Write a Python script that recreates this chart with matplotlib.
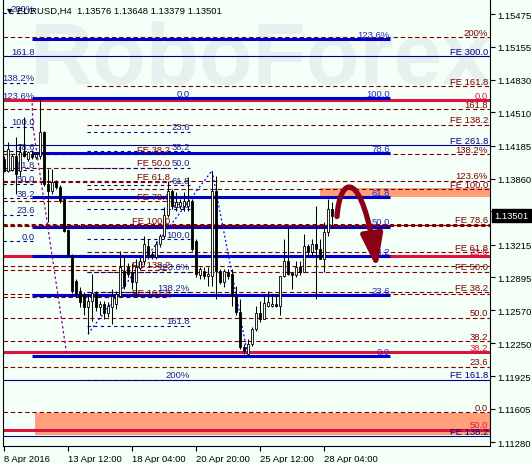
import matplotlib
matplotlib.use("Agg")
import matplotlib.pyplot as plt
import numpy as np
from matplotlib.patches import Rectangle, FancyArrowPatch
from matplotlib.path import Path

BG = "#F4FFF8"
FONT = ["Liberation Sans", "DejaVu Sans"]
FS = 6.8

# H4 candles, 8 Apr 20:00 .. 28 Apr 12:00
opens = [1.1405, 1.1394, 1.1395, 1.1408, 1.1394, 1.1412, 1.1405, 1.1410, 1.1407, 1.1408,
         1.1432, 1.1381, 1.1374, 1.1383, 1.1378, 1.1366, 1.1336, 1.1310, 1.1286, 1.1276,
         1.1273, 1.1260, 1.1266, 1.1274, 1.1260, 1.1263, 1.1254, 1.1260, 1.1263, 1.1271,
         1.1296, 1.1300, 1.1295, 1.1285, 1.1299, 1.1305, 1.1320, 1.1312, 1.1309, 1.1322,
         1.1330, 1.1351, 1.1374, 1.1358, 1.1359, 1.1359, 1.1359, 1.1364, 1.1325, 1.1292,
         1.1296, 1.1291, 1.1291, 1.1374, 1.1296, 1.1285, 1.1295, 1.1293, 1.1271, 1.1255,
         1.1221, 1.1214, 1.1224, 1.1239, 1.1254, 1.1249, 1.1261, 1.1261, 1.1263, 1.1261,
         1.1291, 1.1305, 1.1294, 1.1292, 1.1300, 1.1295, 1.1320, 1.1314, 1.1322, 1.1317,
         1.1307, 1.1334, 1.1356]
highs = [1.1408, 1.1422, 1.1410, 1.1427, 1.1420, 1.1447, 1.1413, 1.1414, 1.1412, 1.1464,
         1.1433, 1.1396, 1.1396, 1.1385, 1.1380, 1.1367, 1.1337, 1.1312, 1.1288, 1.1280,
         1.1275, 1.1273, 1.1293, 1.1276, 1.1266, 1.1266, 1.1265, 1.1278, 1.1276, 1.1315,
         1.1310, 1.1303, 1.1303, 1.1307, 1.1309, 1.1330, 1.1327, 1.1315, 1.1325, 1.1332,
         1.1358, 1.1384, 1.1376, 1.1373, 1.1366, 1.1373, 1.1388, 1.1366, 1.1327, 1.1300,
         1.1300, 1.1300, 1.1394, 1.1389, 1.1298, 1.1298, 1.1298, 1.1298, 1.1281, 1.1268,
         1.1224, 1.1229, 1.1241, 1.1261, 1.1266, 1.1271, 1.1276, 1.1273, 1.1272, 1.1291,
         1.1327, 1.1339, 1.1295, 1.1305, 1.1305, 1.1332, 1.1322, 1.1327, 1.1359, 1.1327,
         1.1344, 1.1366, 1.1363]
lows = [1.1393, 1.1393, 1.1394, 1.1371, 1.1388, 1.1407, 1.1403, 1.1405, 1.1405, 1.1405,
        1.1379, 1.1344, 1.1371, 1.1376, 1.1362, 1.1334, 1.1309, 1.1274, 1.1270, 1.1260,
        1.1253, 1.1234, 1.1247, 1.1256, 1.1253, 1.1249, 1.1251, 1.1244, 1.1258, 1.1270,
        1.1278, 1.1290, 1.1278, 1.1271, 1.1297, 1.1302, 1.1307, 1.1307, 1.1307, 1.1319,
        1.1327, 1.1349, 1.1356, 1.1354, 1.1356, 1.1354, 1.1354, 1.1315, 1.1290, 1.1288,
        1.1288, 1.1281, 1.1281, 1.1268, 1.1283, 1.1280, 1.1288, 1.1261, 1.1253, 1.1219,
        1.1214, 1.1212, 1.1222, 1.1237, 1.1246, 1.1249, 1.1260, 1.1260, 1.1260, 1.1253,
        1.1290, 1.1292, 1.1278, 1.1290, 1.1292, 1.1295, 1.1310, 1.1310, 1.1268, 1.1307,
        1.1295, 1.1330, 1.1339]
closes = [1.1394, 1.1415, 1.1408, 1.1391, 1.1412, 1.1408, 1.1412, 1.1407, 1.1410, 1.1432,
          1.1381, 1.1374, 1.1383, 1.1378, 1.1364, 1.1335, 1.1310, 1.1276, 1.1273, 1.1265,
          1.1260, 1.1266, 1.1274, 1.1260, 1.1263, 1.1254, 1.1261, 1.1271, 1.1273, 1.1300,
          1.1281, 1.1293, 1.1285, 1.1300, 1.1305, 1.1322, 1.1312, 1.1309, 1.1322, 1.1330,
          1.1351, 1.1374, 1.1359, 1.1363, 1.1363, 1.1364, 1.1364, 1.1317, 1.1293, 1.1298,
          1.1291, 1.1293, 1.1374, 1.1296, 1.1285, 1.1296, 1.1291, 1.1271, 1.1255, 1.1221,
          1.1217, 1.1224, 1.1239, 1.1254, 1.1249, 1.1264, 1.1265, 1.1263, 1.1261, 1.1291,
          1.1305, 1.1293, 1.1292, 1.1300, 1.1295, 1.1320, 1.1314, 1.1322, 1.1317, 1.1307,
          1.1334, 1.1356, 1.1350]

x_tick_bars = [0, 16, 32, 48, 64, 80]
x_tick_labels = ["8 Apr 2016", "13 Apr 12:00", "18 Apr 04:00", "20 Apr 20:00",
                 "25 Apr 12:00", "28 Apr 04:00"]
y_ticks = [1.15475, 1.15155, 1.14830, 1.14510, 1.14185, 1.13860, 1.13540,
           1.13215, 1.12895, 1.12570, 1.12250, 1.11925, 1.11605, 1.11280]
last_price = 1.13501
title_text = "\u25bc EURUSD,H4  1.13576 1.13648 1.13379 1.13501"

# fibonacci / expansion levels: (label, price)
blue_levels = [("123.6%", 1.1523), ("100.0", 1.1465), ("78.6", 1.1411), ("61.8", 1.1368),
               ("50.0", 1.1339), ("38.2", 1.1310), ("23.6", 1.1272), ("0.0", 1.1212)]
red_levels = [("0.0", 1.1463), ("23.6", 1.1310), ("38.2", 1.1216), ("50.0", 1.1140)]
maroon_levels = [("200%", 1.1525), ("161.8", 1.1454), ("138.2%", 1.1410), ("123.6%", 1.1384),
                 ("", 1.1341), ("", 1.1301), ("", 1.1273), ("50.0", 1.1250),
                 ("38.2", 1.1227), ("23.6", 1.1202), ("0.0", 1.1157)]
fe_right_levels = [("FE 161.8", 1.1477), ("FE 138.2", 1.1439), ("FE 100.0", 1.1376),
                   ("FE 78.6", 1.1341), ("FE 61.8", 1.1314), ("FE 50.0", 1.1295),
                   ("FE 38.2", 1.1275)]
fe_left_levels = [("FE 38.2", 1.1410), ("FE 50.0", 1.1397), ("FE 61.8", 1.1383),
                  ("FE 78.6", 1.1364), ("FE 100.0", 1.1340), ("FE 138.2", 1.1297),
                  ("FE 161.8", 1.1270)]
navy_left_levels = [("200%", 1.1548), ("161.8", 1.1506), ("138.2%", 1.1480), ("123.6%", 1.1463),
                    ("100.0", 1.1437), ("78.6", 1.1413), ("61.8", 1.1395), ("50.0", 1.1381),
                    ("38.2", 1.1367), ("23.6", 1.1351), ("0.0", 1.1325)]
navy_mid_levels = [("0.0", 1.1465), ("23.6", 1.1432), ("38.2", 1.1413), ("50.0", 1.1397),
                   ("61.8", 1.1380), ("78.6", 1.1356), ("100.0", 1.1327), ("123.6%", 1.1295),
                   ("138.2%", 1.1275), ("161.8", 1.1242), ("200%", 1.1189)]
navy_solid_levels = [("FE 300.0", 1.1506), ("FE 261.8", 1.1419), ("FE 161.8", 1.1189),
                     ("FE 138.2", 1.1134)]
thick_dotted_price = 1.1341

# target zones (bar start, low, high)
zones = [(79.0, 1.1368, 1.1377), (7.75, 1.1135, 1.1156)]

# zigzags (bar, price)
zigzag_bars = [21, 52, 61]
zigzag_prices = [1.1234, 1.1394, 1.1212]
purple_bars = [7.0, 7.25, 15.75]
purple_prices = [1.1465, 1.1437, 1.1212]

# forecast arrow control points (bar, price)
arrow_bars = [83.25, 84.0, 89.5, 93.25]
arrow_prices = [1.1349, 1.1390, 1.1397, 1.1298]

X_LEFT, X_RIGHT = -0.25, 121.5
Y_LOW, Y_HIGH = 1.112414, 1.156122


def draw_levels(ax, levels, x0, x1, color, lw, ls, text_color, label_x):
	for label, price in levels:
		ax.hlines(price, x0, x1, colors=color, linewidth=lw, linestyles=ls, zorder=2)
		if label:
			ax.annotate(label, (label_x, price), xytext=(0, 0.3), textcoords="offset points",
			            ha="right", va="bottom", color=text_color, fontsize=FS,
			            family=FONT, zorder=2.5)


def main():
	fig = plt.figure(figsize=(5.32, 4.64), dpi=100, facecolor=BG)
	ax = fig.add_axes([3 / 532, 17 / 464, 487 / 532, 446 / 464])
	ax.set_facecolor(BG)
	ax.set_xlim(X_LEFT, X_RIGHT)
	ax.set_ylim(Y_LOW, Y_HIGH)

	# watermark
	ax.text(64, 1.1502, "RoboForex", ha="center", va="center", fontsize=63,
	        fontweight="bold", family=FONT, color="#E7EFEF", zorder=0.5)

	for start, lo, hi in zones:
		ax.add_patch(Rectangle((start, lo), X_RIGHT - start, hi - lo,
		                       facecolor="#FFA07A", edgecolor="none", zorder=1))

	dash = (0, (4, 2.5))
	draw_levels(ax, maroon_levels, X_LEFT, X_RIGHT, "#800000", 0.8, dash, "#800000", 121)
	draw_levels(ax, fe_right_levels, 20.75, X_RIGHT, "#800000", 0.8, dash, "#800000", 121)
	draw_levels(ax, fe_left_levels, X_LEFT, 41.5, "#800000", 0.8, dash, "#800000", 41.5)
	draw_levels(ax, navy_left_levels, X_LEFT, 7.75, "#000080", 0.8, (0, (3, 3)), "#202090", 7.75)
	draw_levels(ax, navy_mid_levels, 20.75, 46.5, "#000080", 0.8, (0, (3, 3)), "#202090", 46.5)
	draw_levels(ax, navy_solid_levels, X_LEFT, X_RIGHT, "#000080", 0.8, "solid", "#000080", 121)
	draw_levels(ax, red_levels, X_LEFT, X_RIGHT, "#DC143C", 2.2, "solid", "#DC143C", 121)
	draw_levels(ax, blue_levels, 7.0, 96.5, "#0000CD", 2.2, "solid", "#2828C8", 96.5)
	ax.hlines(thick_dotted_price, X_LEFT, X_RIGHT, colors="#800000", linewidth=2.2,
	          linestyles=(0, (1.3, 1)), zorder=2)

	ax.plot(zigzag_bars, zigzag_prices, color="#0000FF", lw=0.9, ls=(0, (1.5, 2)), zorder=2.6)
	ax.plot(purple_bars, purple_prices, color="#8B008B", lw=0.9, ls=(0, (2, 2)), zorder=2.6)

	# candles
	x = np.arange(len(opens))
	o = np.array(opens)
	c = np.array(closes)
	ax.vlines(x, lows, highs, colors="black", linewidth=0.75, zorder=4)
	bottom = np.minimum(o, c)
	height = np.maximum(np.abs(c - o), 0.00002)
	face = ["white" if cc >= oo else "black" for oo, cc in zip(o, c)]
	ax.bar(x, height, bottom=bottom, width=0.62, color=face, edgecolor="black",
	       linewidth=0.6, zorder=5)

	# forecast arrow
	verts = list(zip(arrow_bars, arrow_prices))
	path = Path(verts, [Path.MOVETO, Path.CURVE4, Path.CURVE4, Path.CURVE4])
	arrow = FancyArrowPatch(path=path, arrowstyle="-|>,head_length=20,head_width=6.5",
	                        mutation_scale=1, color="#8B0016", lw=3.8, zorder=6)
	ax.add_patch(arrow)

	# axes styling
	for side in ["left", "bottom", "right", "top"]:
		ax.spines[side].set_color("black")
		ax.spines[side].set_linewidth(0.8)
	ax.spines["top"].set_visible(False)
	ax.yaxis.tick_right()
	ax.set_yticks(y_ticks)
	ax.set_yticklabels([f"{v:.5f}" for v in y_ticks], family=FONT, fontsize=FS)
	ax.set_xticks(x_tick_bars)
	ax.set_xticklabels(x_tick_labels, family=FONT, fontsize=FS, ha="left")
	ax.tick_params(axis="both", length=3.5, width=0.8, pad=2, colors="black")

	ax.annotate(f"{last_price:.5f}", xy=(1, last_price), xycoords=("axes fraction", "data"),
	            xytext=(3, 0), textcoords="offset points", ha="left", va="center",
	            color="white", fontsize=FS, family=FONT, annotation_clip=False, zorder=10,
	            bbox=dict(boxstyle="square,pad=0.25", fc="black", ec="black"))

	ax.text(2 / 487, 1 - 10 / 446, title_text, transform=ax.transAxes, ha="left",
	        va="center", fontsize=FS, family=FONT, color="black", zorder=10)

	fig.savefig("out.png", dpi=100, facecolor=BG)


if __name__ == "__main__":
	main()
